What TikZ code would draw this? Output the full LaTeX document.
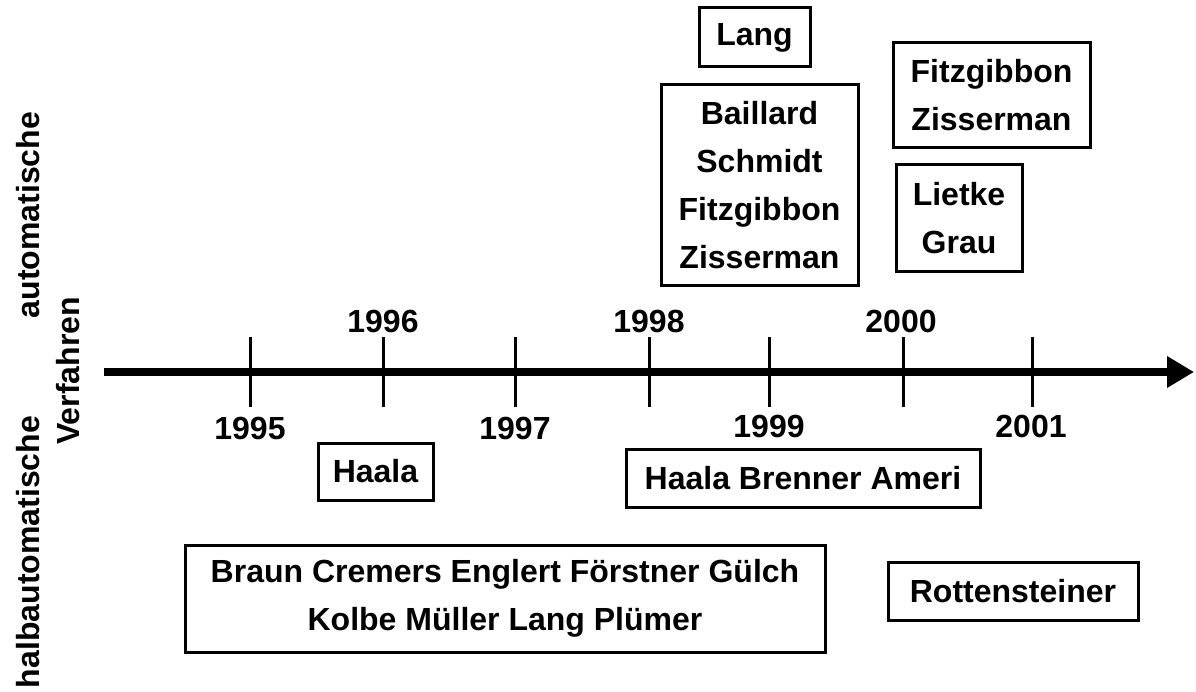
\documentclass[tikz,border=0pt]{standalone}
\usepackage{fontspec}
\setmainfont{Liberation Sans}
\usetikzlibrary{arrows.meta}
\begin{document}
\begin{tikzpicture}[x=1pt,y=-1pt,
  every node/.style={font=\bfseries\fontsize{32}{48}\selectfont, inner sep=0pt},
  namebox/.style={draw, line width=3pt, align=center},
  yearlabel/.style={},
  sidelabel/.style={rotate=90},
  tick/.style={line width=3pt},
  axis/.style={line width=8pt, -{Triangle[length=27pt,width=30pt]}}]
\useasboundingbox (0,0) rectangle (1196,692);
% axis
\coordinate (axs) at (104,372);
\coordinate (axe) at (1194,372);
\draw[axis] (axs) -- (axe);
% ticks
\foreach \x in {250,383,515,649,769,903,1032}{
  \draw[tick] (\x,337) -- (\x,407);
}
% year labels
\node[yearlabel] (y95) at (250,428) {1995};
\node[yearlabel] (y96) at (383,321) {1996};
\node[yearlabel] (y97) at (515,428) {1997};
\node[yearlabel] (y98) at (649,321) {1998};
\node[yearlabel] (y99) at (769,426) {1999};
\node[yearlabel] (y00) at (901,321) {2000};
\node[yearlabel] (y01) at (1031,426) {2001};
% side labels
\node[sidelabel] (auto) at (28,215) {automatische};
\node[sidelabel] (verf) at (68,371) {Verfahren};
\node[sidelabel] (halb) at (28,552) {halbautomatische};
% boxes above
\node[namebox, minimum width=111pt, minimum height=59pt] (lang) at (754.5,37.5) {Lang};
\node[namebox, minimum width=197pt, minimum height=201pt] (bail) at (759.5,185.5) {Baillard\\Schmidt\\Fitzgibbon\\Zisserman};
\node[namebox, minimum width=197pt, minimum height=105pt] (fz) at (991.5,95.5) {Fitzgibbon\\Zisserman};
\node[namebox, minimum width=126pt, minimum height=107pt] (lg) at (959,218.5) {Lietke\\Grau};
% boxes below
\node[namebox, minimum width=115pt, minimum height=57pt] (haala) at (375.5,471.5) {Haala};
\node[namebox, minimum width=354pt, minimum height=58pt] (hba) at (803,478) {Haala Brenner Ameri};
\node[namebox, minimum width=640pt, minimum height=107pt] (braun) at (505,598.5) {Braun Cremers Englert Förstner Gülch\\Kolbe Müller Lang Plümer};
\node[namebox, minimum width=250pt, minimum height=58pt] (rott) at (1013,591) {Rottensteiner};
\end{tikzpicture}
\end{document}
